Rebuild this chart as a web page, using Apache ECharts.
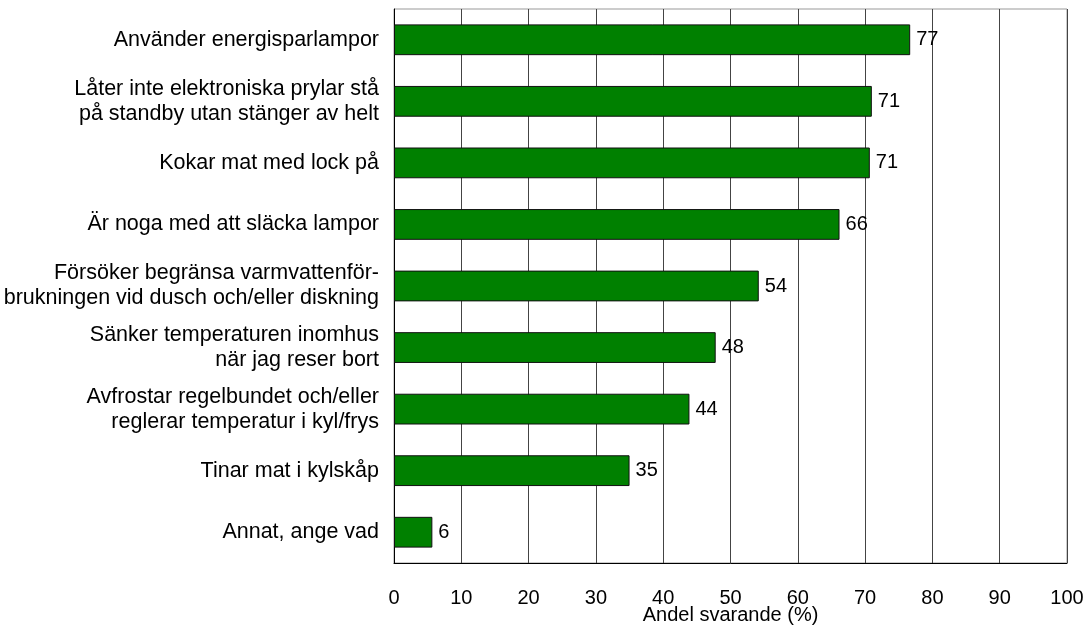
<!DOCTYPE html>
<html><head><meta charset="utf-8">
<script src="https://cdn.jsdelivr.net/npm/echarts@6/dist/echarts.min.js"></script>
<style>html,body{margin:0;padding:0;background:#fff}#c{width:1089px;height:626px}</style>
</head><body><div id="c"></div>
<script>
const categories = [
  "Använder energisparlampor",
  "Låter inte elektroniska prylar stå\npå standby utan stänger av helt",
  "Kokar mat med lock på",
  "Är noga med att släcka lampor",
  "Försöker begränsa varmvattenför-\nbrukningen vid dusch och/eller diskning",
  "Sänker temperaturen inomhus\nnär jag reser bort",
  "Avfrostar regelbundet och/eller\nreglerar temperatur i kyl/frys",
  "Tinar mat i kylskåp",
  "Annat, ange vad"
];
const values = [76.7, 71.0, 70.7, 66.2, 54.2, 47.8, 43.9, 35.0, 5.7];
const xTicks = [0, 10, 20, 30, 40, 50, 60, 70, 80, 90, 100];

const chart = echarts.init(document.getElementById('c'), null, {renderer: 'canvas'});
const font = "'Liberation Sans', Arial, sans-serif";
chart.setOption({
  animation: false,
  grid: {left: 394, right: 22, top: 9, bottom: 63, show: true, borderColor: '#999', borderWidth: 1,
    containLabel: false, outerBoundsMode: 'none'},
  xAxis: {
    type: 'value', min: xTicks[0], max: xTicks[xTicks.length - 1], interval: 10,
    name: 'Andel svarande (%)', nameLocation: 'middle', nameGap: 42, nameMoveOverlap: false,
    nameTextStyle: {fontFamily: font, fontSize: 20, color: '#000'},
    axisLine: {show: true, lineStyle: {color: '#000', width: 1}},
    axisTick: {show: false},
    axisLabel: {fontFamily: font, fontSize: 20, color: '#000', margin: 25},
    splitLine: {show: true, lineStyle: {color: '#444', width: 1}}
  },
  yAxis: {
    type: 'category', data: categories, inverse: true,
    axisLine: {show: true, lineStyle: {color: '#000', width: 1}},
    axisTick: {show: false},
    axisLabel: {fontFamily: font, fontSize: 21.5, color: '#000', margin: 15, lineHeight: 25, align: 'right'},
    splitLine: {show: false}
  },
  series: [{
    type: 'bar', data: values, barWidth: '50%',
    itemStyle: {color: '#008000', borderColor: '#111', borderWidth: 1},
    label: {show: true, position: 'right', distance: 6, fontFamily: font, fontSize: 20, color: '#000',
      formatter: p => Math.round(p.value)}
  }]
});
</script></body></html>
